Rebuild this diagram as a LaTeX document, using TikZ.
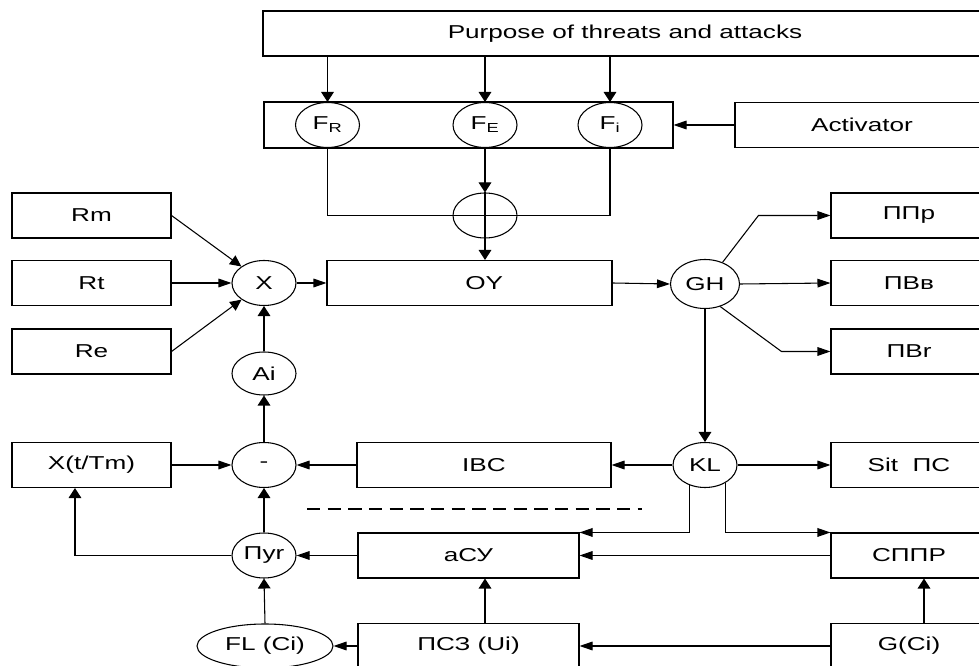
\documentclass[tikz,border=0pt]{standalone}
\usepackage{fontspec}
\setmainfont{Liberation Sans}[FakeStretch=1.4]
\usetikzlibrary{shapes.geometric,arrows.meta}

\begin{document}
\begin{tikzpicture}[x=0.75pt,y=0.75pt,yscale=-1,xscale=1,
  line width=0.8pt,
  every node/.style={font=\fontsize{14}{16}\selectfont},
  blk/.style={draw,rectangle,minimum height=33.75pt,inner sep=0pt},
  cir/.style={draw,ellipse,minimum width=48pt,minimum height=33.75pt,inner sep=0pt},
  harr/.style={-{Triangle[length=9.75pt,width=6.5pt]}},
  varr/.style={-{Triangle[length=7.5pt,width=9.5pt]}},
  darr/.style={-{Triangle[length=8.5pt,width=8pt]}}]
\useasboundingbox (0,0) rectangle (979,666);
\clip (0,0) rectangle (979,666);

\draw (625,33.5) node [blk,minimum width=543pt] (purpose) {Purpose of threats and attacks};

\draw (468.5,125) node [blk,minimum width=306.75pt,minimum height=34.5pt] (fbox) {};
\draw (327.5,125) node [cir] (fr) {F\textsubscript{R}};
\draw (485,125) node [cir] (fe) {F\textsubscript{E}};
\draw (610,125) node [cir] (fi) {F\textsubscript{i}};
\draw (862,125) node [blk,minimum width=190.5pt] (activ) {Activator};
\draw (485,215.5) node [cir] (oplus) {};

\draw (91.5,215.5) node [blk,minimum width=119.25pt] (rm) {Rm};
\draw (91.5,283) node [blk,minimum width=119.25pt] (rt) {Rt};
\draw (91.5,351.5) node [blk,minimum width=119.25pt] (re) {Re};
\draw (264,283) node [cir] (xnode) {X};
\draw (469.5,283) node [blk,minimum width=213.75pt] (oy) {\hspace*{22pt}OY};
\draw (705,284) node [cir,minimum width=51.75pt,minimum height=36.75pt] (gh) {GH};
\draw (909,215.5) node [blk,minimum width=117pt] (ppr) {ППр};
\draw (909,283) node [blk,minimum width=117pt] (pvv) {ПВв};
\draw (909,351.5) node [blk,minimum width=117pt] (pvr) {ПВr};

\draw (264,373.5) node [cir,minimum height=32.25pt] (ai) {Ai};
\draw (264,465) node [cir] (minus) {-};
\draw (91.5,465) node [blk,minimum width=119.25pt] (xt) {X(t/Tm)};
\draw (484,465) node [blk,minimum width=190.5pt] (ibc) {IBC};
\draw (705,465) node [cir] (kl) {KL};
\draw (909,465) node [blk,minimum width=117pt] (sit) {Sit\ \ ПС};

\draw (264,555.5) node [cir] (pug) {Пуr};
\draw (468.5,555.5) node [blk,minimum width=165.75pt] (asu) {аСУ};
\draw (909,555.5) node [blk,minimum width=117pt] (sppr) {СППР};
\draw (265,646) node [cir,minimum width=102pt,minimum height=33pt] (fl) {FL (Ci)};
\draw (468.5,646) node [blk,minimum width=165.75pt] (psz) {ПСЗ (Ui)};
\draw (909,646) node [blk,minimum width=117pt] (gci) {G(Ci)};

\coordinate (dashL) at (307,509);
\coordinate (dashR) at (642,509);

% top part
\draw[varr] (fr |- purpose.south) -- (fr.north);
\draw[varr] (fe |- purpose.south) -- (fe.north);
\draw[varr] (fi |- purpose.south) -- (fi.north);
\draw[harr] (activ.west) -- (fbox.east);
\draw (fr.south) |- (oplus.center) -| (fi.south);
\draw[varr] (fe.south) -- (oplus.north);
\draw (oplus.north) -- (oplus.south);
\draw[varr] (oplus.south) -- (oplus |- oy.north);

% left inputs
\draw[darr] (rm.east) -- (xnode);
\draw[harr] (rt.east) -- (xnode.west);
\draw[darr] (re.east) -- (xnode);
\draw[harr] (xnode.east) -- (oy.west);
\draw[varr] (ai.north) -- (xnode.south);
\draw[varr] (minus.north) -- (ai.south);
\draw[harr] (xt.east) -- (minus.west);
\draw[harr] (ibc.west) -- (minus.east);

% right outputs
\draw[harr] (oy.east) -- (gh.west);
\draw[harr] (gh.51) -- ([xshift=-54pt]ppr.west) -- (ppr.west);
\draw[harr] (gh.east) -- (pvv.west);
\draw[harr] (gh.-56) -- ([xshift=-36.75pt]pvr.west) -- (pvr.west);
\draw[varr] (gh.south) -- (kl.north);
\draw[harr] (kl.west) -- (ibc.east);
\draw[harr] (kl.east) -- (sit.west);
\draw[harr] (kl.-128) |- (asu.north east);
\draw[harr] (kl.-42) |- (sppr.north west);

% bottom part
\draw[dashed,dash pattern=on 10pt off 5.5pt] (dashL) -- (dashR);
\draw[harr] (sppr.west) -- (asu.east);
\draw[varr] ([xshift=11.25pt]gci.north) -- ([xshift=11.25pt]sppr.south);
\draw[harr] (gci.west) -- (psz.east);
\draw[varr] (oplus |- psz.north) -- (oplus |- asu.south);
\draw[harr] (psz.west) -- (fl.east);
\draw[varr] (fl.north) -- (pug.south);
\draw[harr] (asu.west) -- (pug.east);
\draw[varr] (pug.north) -- (minus.south);
\draw[varr] (pug.west) -| ([xshift=-12.4pt]xt.south);
\end{tikzpicture}
\end{document}
